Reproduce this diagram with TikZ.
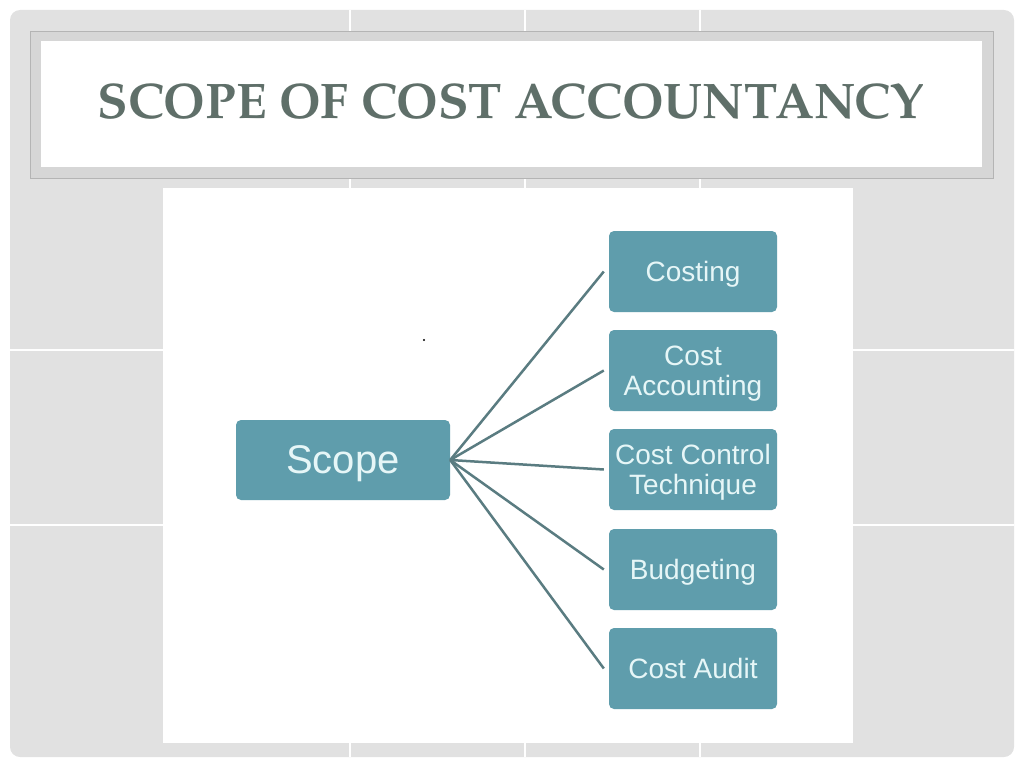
\documentclass[tikz,border=0pt]{standalone}
\usepackage{fontspec}
\setmainfont{Liberation Sans}
\newfontfamily\titlefont{texgyrepagella-bold.otf}
\usepackage{tikz}

\definecolor{panelgray}{HTML}{E1E1E1}
\definecolor{framegray}{HTML}{D6D6D6}
\definecolor{edgegray}{HTML}{B4B4B4}
\definecolor{titlegray}{HTML}{5F6F69}
\definecolor{boxteal}{HTML}{5F9DAC}
\definecolor{boxtext}{HTML}{E6F6F7}
\definecolor{linegray}{HTML}{5A7C81}

\begin{document}
\begin{tikzpicture}[x=1pt,y=-1pt,
    leaf/.style={fill=boxteal, rounded corners=5pt, minimum width=168pt,
      minimum height=81pt, inner sep=0pt, text=boxtext, align=center,
      text depth=0pt, font=\fontsize{28}{30}\selectfont},
    root/.style={leaf, minimum width=214pt, minimum height=80pt,
      font=\fontsize{40}{44}\selectfont},
    link/.style={draw=linegray, line width=2.5pt}]
          \useasboundingbox (0,0) rectangle (1024,768);
          \fill[panelgray, rounded corners=10pt] (10,10) rectangle (1014,757);
          \foreach \x in {350,525,700}
            \draw[white, line width=1.5pt] (\x,10) -- (\x,757);
          \foreach \y in {350,525}
            \draw[white, line width=1.5pt] (10,\y) -- (1014,\y);

          \filldraw[fill=framegray, draw=edgegray] (30,31) rectangle (993,178);
          \fill[white] (41,41) rectangle (982,167);
          \node[text=titlegray, font=\titlefont\fontsize{50}{50}\selectfont]
            (title) at (511,102) {SCOPE OF COST ACCOUNTANCY};

          \fill[white] (163,188) rectangle (853,743);
          \fill (424,340) circle (1.2pt);

          \node[root] (scope)      at (343, 460)   {Scope};
          \node[leaf] (costing)    at (693, 271.5) {Costing};
          \node[leaf] (accounting) at (693, 370.5) {Cost\\Accounting};
          \node[leaf] (control)    at (693, 469.5) {Cost Control\\Technique};
          \node[leaf] (budgeting)  at (693, 569.5) {Budgeting};
          \node[leaf] (audit)      at (693, 668.5) {Cost Audit};

          \foreach \t in {costing,accounting,control,budgeting,audit}
            \draw[link] (scope.east) -- ([xshift=-5pt]\t.west);
        \end{tikzpicture}
\end{document}
